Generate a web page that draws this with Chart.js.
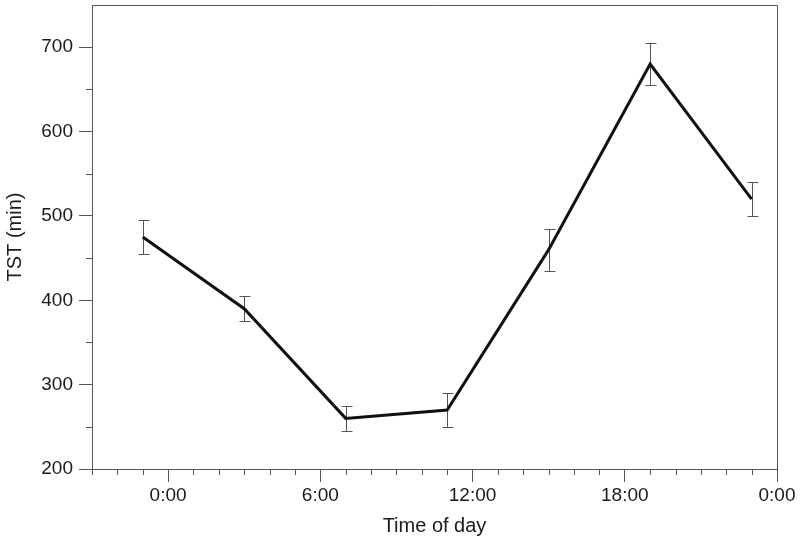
<!DOCTYPE html>
<html>
<head>
<meta charset="utf-8">
<script src="https://cdn.jsdelivr.net/npm/chart.js@4"></script>
<style>
body{margin:0;background:#fff}
</style>
</head>
<body>
<canvas id="chart" width="800" height="540"></canvas>
<script>

// time of day in hours (-1 = 23:00 of the previous day)
let hours=[-1,3,7,11,15,19,23]
let tst=[475,390,260,270,460,680,520]
let tstErr=[20,15,15,20,25,25,20]

let xMajor=[0,6,12,18,24]
let xLabels=["0:00","6:00","12:00","18:00","0:00"]
let yMajor=[200,300,400,500,600,700]
let yMinor=[250,350,450,550,650]

let axisColor="#555"
let font="'Liberation Sans', Arial, sans-serif"


// error bars + frame + minor ticks
let extras={

id:"extras",

beforeDatasetsDraw(chart){

let ctx=chart.ctx
let x=chart.scales.x
let y=chart.scales.y

ctx.save()
ctx.strokeStyle="#555"
ctx.lineWidth=1

hours.forEach((h,i)=>{

let px=Math.round(x.getPixelForValue(h))+0.5
let top=Math.round(y.getPixelForValue(tst[i]+tstErr[i]))+0.5
let bot=Math.round(y.getPixelForValue(tst[i]-tstErr[i]))+0.5

ctx.beginPath()
ctx.moveTo(px,top)
ctx.lineTo(px,bot)
ctx.moveTo(px-5,top)
ctx.lineTo(px+6,top)
ctx.moveTo(px-5,bot)
ctx.lineTo(px+6,bot)
ctx.stroke()

})

ctx.restore()

},

afterDraw(chart){

let ctx=chart.ctx
let a=chart.chartArea
let x=chart.scales.x
let y=chart.scales.y

ctx.save()
ctx.strokeStyle=axisColor
ctx.lineWidth=1
ctx.beginPath()

// top and right sides of the box
ctx.moveTo(Math.round(a.left),Math.round(a.top)+0.5)
ctx.lineTo(Math.round(a.right)+0.5,Math.round(a.top)+0.5)
ctx.lineTo(Math.round(a.right)+0.5,Math.round(a.bottom))

// minor ticks, one per hour
for(let h=x.min;h<x.max;h++){

if(xMajor.includes(h)) continue

let px=Math.round(x.getPixelForValue(h))+0.5
ctx.moveTo(px,a.bottom)
ctx.lineTo(px,a.bottom+6)

}

yMinor.forEach(v=>{

let py=Math.round(y.getPixelForValue(v))+0.5
ctx.moveTo(a.left-6,py)
ctx.lineTo(a.left,py)

})

ctx.stroke()
ctx.restore()

}

}


new Chart(document.getElementById("chart"),{

type:"line",

data:{

datasets:[{

label:"TST",

data:hours.map((h,i)=>({x:h,y:tst[i]})),

borderColor:"#111",

borderWidth:3,

pointRadius:0,

tension:0,

fill:false

}]

},

options:{

responsive:false,

animation:false,

layout:{
padding:{top:5,right:23,left:0,bottom:0}
},

plugins:{
legend:{display:false},
tooltip:{enabled:false}
},

scales:{

x:{

type:"linear",

min:-3,

max:24,

afterBuildTicks:s=>{ s.ticks=xMajor.map(v=>({value:v})) },

afterFit:s=>{ s.height=71 },

ticks:{
callback:v=>xLabels[xMajor.indexOf(v)],
font:{family:font,size:19},
color:"#1a1a1a",
padding:2,
maxRotation:0
},

grid:{
drawOnChartArea:false,
tickLength:13,
tickColor:axisColor
},

border:{color:axisColor},

title:{
display:true,
text:"Time of day",
font:{family:font,size:20},
color:"#1a1a1a",
padding:{top:0,bottom:2}
}

},

y:{

min:200,

max:750,

afterBuildTicks:s=>{ s.ticks=yMajor.map(v=>({value:v})) },

afterFit:s=>{ s.width=92; s.paddingTop=0; s.paddingBottom=0 },

ticks:{
font:{family:font,size:19},
color:"#1a1a1a",
padding:6
},

grid:{
drawOnChartArea:false,
tickLength:13,
tickColor:axisColor
},

border:{color:axisColor},

title:{
display:true,
text:"TST (min)",
font:{family:font,size:20},
color:"#1a1a1a",
padding:{top:3,bottom:0}
}

}

}

},

plugins:[extras]

})

</script>
</body>
</html>
